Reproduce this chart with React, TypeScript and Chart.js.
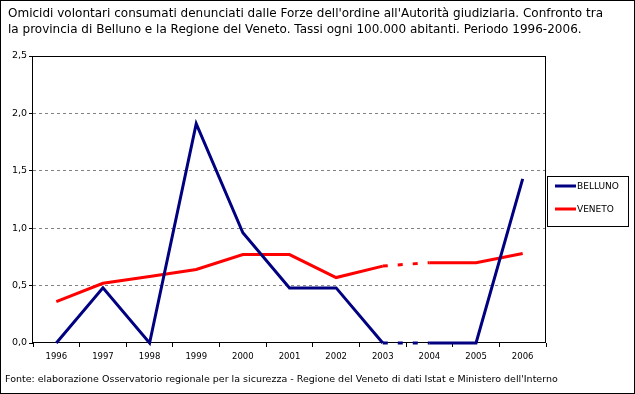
import React, { useEffect, useRef } from 'react';
import { Chart, registerables } from 'chart.js';

Chart.register(...registerables);

const years = ['1996', '1997', '1998', '1999', '2000', '2001', '2002', '2003', '2004', '2005', '2006'];
const belluno = [0, 0.48, 0, 1.91, 0.96, 0.48, 0.48, 0, 0, 0, 1.43];
const veneto = [0.36, 0.52, 0.58, 0.64, 0.77, 0.77, 0.57, 0.67, 0.7, 0.7, 0.78];
const yTickLabels = ['0,0', '0,5', '1,0', '1,5', '2,0', '2,5'];
const seriesNames = ['BELLUNO', 'VENETO'];
const seriesColors = ['#000080', '#FF0000'];
const titleLines = [
  "Omicidi volontari consumati denunciati dalle Forze dell'ordine all'Autorità giudiziaria. Confronto tra",
  'la provincia di Belluno e la Regione del Veneto. Tassi ogni 100.000 abitanti. Periodo 1996-2006.',
];
const footerText =
  "Fonte: elaborazione Osservatorio regionale per la sicurezza - Regione del Veneto di dati Istat e Ministero dell'Interno";

const FONT = '"DejaVu Sans", Verdana, sans-serif';

function fitSize(ctx: CanvasRenderingContext2D, text: string, width: number, base: number) {
  ctx.font = `${base}px ${FONT}`;
  const w = ctx.measureText(text).width;
  return (base * width) / w;
}

const decorPlugin = {
  id: 'decor',
  beforeDatasetsDraw(chart: any) {
    const ctx: CanvasRenderingContext2D = chart.ctx;
    const area = chart.chartArea;
    ctx.save();
    ctx.strokeStyle = '#000';
    ctx.lineWidth = 1;
    ctx.strokeRect(Math.round(area.left) - 0.5, Math.round(area.top) + 0.5, Math.round(area.right - area.left), Math.round(area.bottom - area.top) - 1);
    ctx.restore();
  },
  afterDraw(chart: any) {
    const ctx: CanvasRenderingContext2D = chart.ctx;
    ctx.save();
    // outer border
    ctx.strokeStyle = '#000';
    ctx.lineWidth = 1;
    ctx.strokeRect(0.5, 0.5, chart.width - 1, chart.height - 1);

    // title
    ctx.fillStyle = '#000';
    ctx.textBaseline = 'middle';
    ctx.textAlign = 'left';
    const ts = fitSize(ctx, titleLines[0], 596, 12);
    ctx.font = `${ts}px ${FONT}`;
    ctx.fillText(titleLines[0], 8, 14);
    ctx.fillText(titleLines[1], 8, 30);

    // footer
    const fs = fitSize(ctx, footerText, 553, 10);
    ctx.font = `${fs}px ${FONT}`;
    ctx.fillText(footerText, 5, 380);

    // legend
    ctx.strokeRect(547.5, 176.5, 81, 50);
    const ys = [186, 209];
    const ls = fitSize(ctx, seriesNames[0], 42, 9);
    chart.data.datasets.forEach((ds: any, i: number) => {
      ctx.strokeStyle = ds.borderColor;
      ctx.lineWidth = 3;
      ctx.beginPath();
      ctx.moveTo(555, ys[i]);
      ctx.lineTo(576, ys[i]);
      ctx.stroke();
      ctx.fillStyle = '#000';
      ctx.font = `${ls}px ${FONT}`;
      ctx.fillText(ds.label, 577, ys[i] + 0.5);
    });
    ctx.restore();
  },
};

export default function App() {
  const ref = useRef<HTMLCanvasElement>(null);
  useEffect(() => {
    const canvas = ref.current;
    if (!canvas) return;
    const dashSeg = (ctx: any) => (ctx.p0DataIndex === 7 ? [5, 10] : undefined);
    const chart = new Chart(canvas, {
      type: 'line',
      data: {
        labels: years,
        datasets: [
          {
            label: seriesNames[0],
            data: belluno,
            borderColor: seriesColors[0],
            backgroundColor: seriesColors[0],
            borderWidth: 3,
            pointRadius: 0,
            tension: 0,
            clip: false,
            borderCapStyle: 'butt',
            borderJoinStyle: 'miter',
            segment: { borderDash: dashSeg },
          },
          {
            label: seriesNames[1],
            data: veneto,
            borderColor: seriesColors[1],
            backgroundColor: seriesColors[1],
            borderWidth: 3,
            pointRadius: 0,
            tension: 0,
            clip: false,
            borderCapStyle: 'butt',
            borderJoinStyle: 'miter',
            segment: { borderDash: dashSeg },
          },
        ],
      },
      options: {
        responsive: false,
        animation: false,
        layout: { padding: { left: 0, top: 56, right: 89, bottom: 0 } },
        plugins: {
          legend: { display: false },
          title: { display: false },
          tooltip: { enabled: false },
        },
        scales: {
          x: {
            type: 'category',
            offset: true,
            afterFit: (s: any) => {
              s.height = 51;
            },
            grid: {
              offset: true,
              drawOnChartArea: false,
              drawTicks: true,
              tickLength: 4,
              tickColor: '#000',
              color: '#000',
            },
            border: { display: false },
            ticks: {
              color: '#000',
              font: { family: FONT, size: 8.5 },
              padding: 5,
              maxRotation: 0,
              autoSkip: false,
            },
          },
          y: {
            min: 0,
            max: 2.5,
            afterFit: (s: any) => {
              s.width = 33;
            },
            grid: {
              color: (c: any) =>
                c.tick && (c.tick.value === 0 || c.tick.value === 2.5) ? 'rgba(0,0,0,0)' : '#808080',
              tickColor: '#000',
              tickLength: 4,
              drawTicks: true,
            },
            border: { display: false, dash: [3, 3] },
            ticks: {
              stepSize: 0.5,
              color: '#000',
              font: { family: FONT, size: 9.5 },
              padding: 2,
              callback: (_v: any, i: number) => yTickLabels[i],
            },
          },
        },
      },
      plugins: [decorPlugin],
    } as any);
    return () => chart.destroy();
  }, []);
  return (
    <canvas
      ref={ref}
      width={635}
      height={394}
      style={{ position: 'fixed', left: 0, top: 0, width: 635, height: 394, background: '#fff', display: 'block' }}
    />
  );
}
